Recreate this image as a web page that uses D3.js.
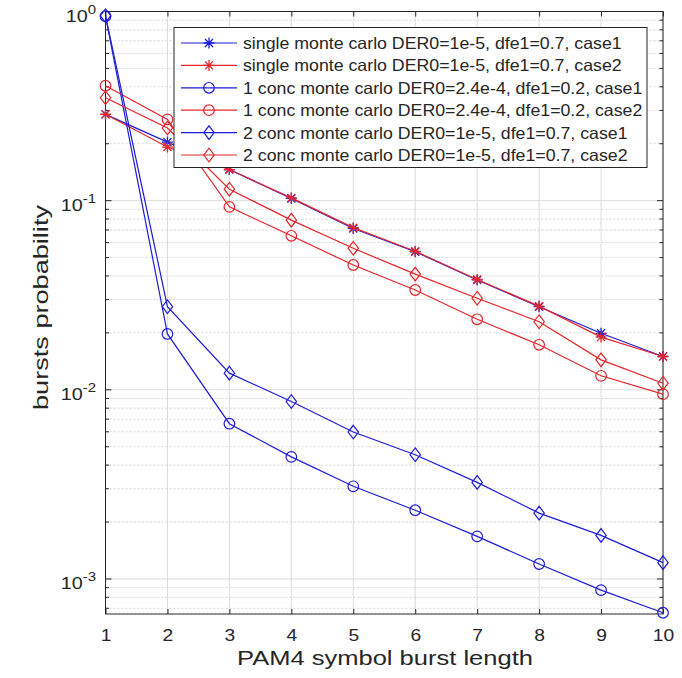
<!DOCTYPE html>
<html><head><meta charset="utf-8">
<script src="https://cdn.jsdelivr.net/npm/d3@7"></script>
<style>body{margin:0;background:#fff;} svg{display:block;}</style>
</head><body>
<script>
const xValues = [1,2,3,4,5,6,7,8,9,10];
const singleCase1 = [0.286,0.204,0.146,0.1027,0.0713,0.0537,0.0381,0.0275,0.0199,0.0150];
const singleCase2 = [0.286,0.192,0.146,0.1035,0.0720,0.0540,0.0383,0.0277,0.0190,0.0150];
const conc1Case1  = [0.944,0.01974,0.00662,0.00442,0.00309,0.00231,0.00168,0.00120,0.000873,0.000663];
const conc1Case2  = [0.405,0.269,0.0927,0.0652,0.0457,0.0337,0.0236,0.0173,0.01186,0.00949];
const conc2Case1  = [0.950,0.0275,0.01225,0.00867,0.00598,0.00454,0.00324,0.00223,0.00170,0.00122];
const conc2Case2  = [0.350,0.242,0.115,0.0789,0.0560,0.0409,0.0305,0.0229,0.0144,0.01084];
const seriesNames = [
  "single monte carlo DER0=1e-5, dfe1=0.7, case1",
  "single monte carlo DER0=1e-5, dfe1=0.7, case2",
  "1 conc monte carlo DER0=2.4e-4, dfe1=0.2, case1",
  "1 conc monte carlo DER0=2.4e-4, dfe1=0.2, case2",
  "2 conc monte carlo DER0=1e-5, dfe1=0.7, case1",
  "2 conc monte carlo DER0=1e-5, dfe1=0.7, case2"
];
const seriesValues = [singleCase1, singleCase2, conc1Case1, conc1Case2, conc2Case1, conc2Case2];
const seriesMarkers = ["star","star","circle","circle","diamond","diamond"];
const seriesColors = ["#1d1dd8","#e4262b","#1d1dd8","#e4262b","#1d1dd8","#e4262b"];
const yTickExps = [0,-1,-2,-3];
const xLabel = "PAM4 symbol burst length";
const yLabel = "bursts probability";

const W = 682, H = 678;
const L = 105.5, R = 663, T = 11.5, B = 614;
const FONT = "'Liberation Sans', Arial, sans-serif";
const svg = d3.select("body").append("svg").attr("width",W).attr("height",H)
  .style("font-family",FONT);
svg.append("rect").attr("width",W).attr("height",H).attr("fill","#fff");

const x = d3.scaleLinear().domain([1,10]).range([L,R]);
const y = d3.scaleLog().domain([6.53e-4,1]).range([B,T]);

function stretch(sel, factor){
  sel.each(function(){
    const w = this.getComputedTextLength();
    d3.select(this).attr("textLength", w*factor).attr("lengthAdjust","spacingAndGlyphs");
  });
}

const g = svg.append("g");
const minors = [];
for (let e=-4; e<0; e++) for (let m=2; m<=9; m++) { const v=m*Math.pow(10,e); if (v>=y.domain()[0] && v<=1) minors.push(v); }
g.selectAll(".minor").data(minors).join("line")
  .attr("x1",L).attr("x2",R).attr("y1",d=>y(d)).attr("y2",d=>y(d))
  .attr("stroke","#d4d4d4").attr("stroke-width",1).attr("stroke-dasharray","2,2");
g.selectAll(".majy").data(yTickExps.map(e=>Math.pow(10,e))).join("line")
  .attr("x1",L).attr("x2",R).attr("y1",d=>y(d)).attr("y2",d=>y(d))
  .attr("stroke","#dcdcdc").attr("stroke-width",1);
g.selectAll(".majx").data(xValues).join("line")
  .attr("x1",d=>x(d)).attr("x2",d=>x(d)).attr("y1",T).attr("y2",B)
  .attr("stroke","#dcdcdc").attr("stroke-width",1);

const axc = "#262626";
const xAxis = d3.axisBottom(x).tickValues(xValues).tickSize(-5).tickPadding(14).tickFormat(d3.format("d"));
const xa = svg.append("g").attr("transform",`translate(0,${B})`).call(xAxis);
xa.select(".domain").remove();
xa.selectAll("line").attr("stroke",axc);
xa.selectAll("text").attr("font-size",16).attr("fill",axc).attr("font-family",FONT)
  .attr("dy",null).attr("y",27);
xa.selectAll(".tick text").call(stretch, 1.2);
const xTop = d3.axisTop(x).tickValues(xValues).tickSize(-5).tickFormat("");
const xt = svg.append("g").attr("transform",`translate(0,${T})`).call(xTop);
xt.select(".domain").remove(); xt.selectAll("line").attr("stroke",axc);

function yTicks(side){
  const s = side==="left"?1:-1, x0 = side==="left"?L:R;
  svg.append("g").selectAll("line").data(yTickExps.map(e=>Math.pow(10,e))).join("line")
    .attr("x1",x0).attr("x2",x0+s*6).attr("y1",d=>y(d)).attr("y2",d=>y(d)).attr("stroke",axc);
  svg.append("g").selectAll("line").data(minors).join("line")
    .attr("x1",x0).attr("x2",x0+s*3.5).attr("y1",d=>y(d)).attr("y2",d=>y(d)).attr("stroke",axc);
}
yTicks("left"); yTicks("right");

const yl = svg.append("g").selectAll("text").data(yTickExps).join("text")
  .attr("transform",d=>`translate(96,${y(Math.pow(10,d))+10.5}) scale(1.2,1)`)
  .attr("text-anchor","end").attr("fill",axc).attr("font-size",16.5);
yl.append("tspan").text("10");
yl.append("tspan").attr("dy",-8).attr("font-size",12.5).text(d=>d);

svg.append("rect").attr("x",L).attr("y",T).attr("width",R-L).attr("height",B-T)
  .attr("fill","none").attr("stroke",axc).attr("stroke-width",1);

function marker(sel, type, color){
  if (type==="star"){
    const a=5.5, b=4;
    sel.append("path").attr("d",`M${-a},0H${a}M0,${-a}V${a}M${-b},${-b}L${b},${b}M${-b},${b}L${b},${-b}`)
      .attr("stroke",color).attr("stroke-width",1.3).attr("fill","none");
  } else if (type==="circle"){
    sel.append("circle").attr("r",5.3).attr("fill","none").attr("stroke",color).attr("stroke-width",1.2);
  } else {
    sel.append("path").attr("d","M0,-6.8L5.2,0L0,6.8L-5.2,0Z").attr("fill","none").attr("stroke",color).attr("stroke-width",1.2);
  }
}

const line = d3.line().x((d,i)=>x(xValues[i])).y(d=>y(d));
const plot = svg.append("g");
seriesValues.forEach((vals,k)=>{
  const c = seriesColors[k];
  plot.append("path").datum(vals).attr("d",line).attr("fill","none").attr("stroke",c).attr("stroke-width",1.2);
  vals.forEach((v,i)=>{
    const m = plot.append("g").attr("transform",`translate(${x(xValues[i])},${y(v)})`);
    marker(m, seriesMarkers[k], c);
  });
});

const lg = svg.append("g");
lg.append("rect").attr("x",174).attr("y",27.5).attr("width",473).attr("height",140)
  .attr("fill","#fff").attr("stroke",axc).attr("stroke-width",1);
seriesNames.forEach((name,k)=>{
  const yy = 43 + k*22.4;
  const c = seriesColors[k];
  lg.append("line").attr("x1",181).attr("x2",237).attr("y1",yy).attr("y2",yy).attr("stroke",c).attr("stroke-width",1.2);
  const m = lg.append("g").attr("transform",`translate(209,${yy})`);
  marker(m, seriesMarkers[k], c);
  lg.append("text").attr("x",243).attr("y",yy+6).attr("font-size",16.5).attr("fill",axc).text(name)
    .call(stretch, 1.075);
});

svg.append("text").attr("x",385).attr("y",665).attr("text-anchor","middle")
  .attr("font-size",21).attr("fill",axc).text(xLabel)
  .call(function(s){ s.attr("textLength",296).attr("lengthAdjust","spacingAndGlyphs"); });
svg.append("text").attr("transform",`translate(48,307.5) rotate(-90)`).attr("text-anchor","middle")
  .attr("font-size",21).attr("fill",axc).text(yLabel)
  .call(function(s){ s.attr("textLength",205).attr("lengthAdjust","spacingAndGlyphs"); });
</script>
</body></html>
